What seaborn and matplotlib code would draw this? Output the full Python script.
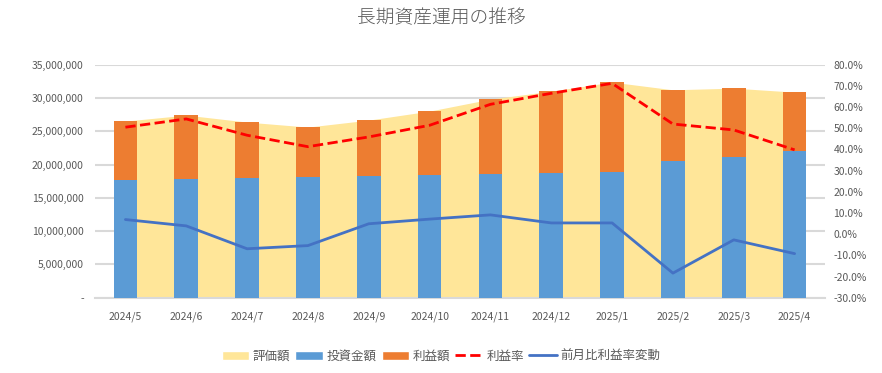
import matplotlib
matplotlib.use("Agg")
import matplotlib.pyplot as plt
from matplotlib.patches import Patch
from matplotlib.lines import Line2D
from matplotlib.ticker import FuncFormatter, MultipleLocator
import seaborn as sns
import numpy as np

# data
months = ["2024/5", "2024/6", "2024/7", "2024/8", "2024/9", "2024/10",
          "2024/11", "2024/12", "2025/1", "2025/2", "2025/3", "2025/4"]
valuation = [26_530_000, 27_430_000, 26_380_000, 25_630_000, 26_680_000, 28_030_000,
             29_830_000, 31_030_000, 32_390_000, 31_230_000, 31_480_000, 30_880_000]
invested = [17_720_000, 17_820_000, 18_020_000, 18_120_000, 18_320_000, 18_420_000,
            18_570_000, 18_720_000, 18_920_000, 20_520_000, 21_120_000, 22_030_000]
profit = [8_810_000, 9_610_000, 8_360_000, 7_510_000, 8_360_000, 9_610_000,
          11_260_000, 12_310_000, 13_470_000, 10_710_000, 10_360_000, 8_850_000]
profit_rate = [0.505, 0.544, 0.467, 0.413, 0.459, 0.514,
               0.613, 0.665, 0.712, 0.520, 0.492, 0.398]
mom_change = [0.069, 0.039, -0.069, -0.054, 0.049, 0.071,
              0.091, 0.053, 0.053, -0.184, -0.027, -0.092]

YELLOW = "#FFE699"
BLUE = "#5B9BD5"
ORANGE = "#ED7D31"
RED = "#FF0000"
LINE_BLUE = "#4472C4"
GRID = "#D9D9D9"
TEXT = "#595959"

sns.set_theme(style="white")
plt.rcParams["font.family"] = ["Noto Sans CJK JP", "DejaVu Sans"]

fig = plt.figure(figsize=(8.82, 3.73), dpi=100)
ax = fig.add_axes([0.1077, 0.2019, 0.8277, 0.6246])

x = np.arange(len(months))
stacked_top = [i + p for i, p in zip(invested, profit)]

# area behind the bars
ax.fill_between(x, valuation, color=YELLOW, linewidth=0, zorder=1)

# stacked bars: full height in orange, investment in blue on top of it
sns.barplot(x=months, y=stacked_top, color=ORANGE, width=0.39, saturation=1,
            linewidth=0, ax=ax, zorder=2)
sns.barplot(x=months, y=invested, color=BLUE, width=0.39, saturation=1,
            linewidth=0, ax=ax, zorder=3)

ax.set_xlim(-0.5, len(months) - 0.5)
ax.set_ylim(0, 35_000_000)
ax.yaxis.set_major_locator(MultipleLocator(5_000_000))
ax.yaxis.set_major_formatter(FuncFormatter(lambda v, p: "-" if v == 0 else f"{int(v):,}"))
ax.grid(axis="y", color=GRID, linewidth=1.5)
ax.set_axisbelow(True)
for side in ["top", "right", "left"]:
    ax.spines[side].set_visible(False)
ax.spines["bottom"].set_color(GRID)
ax.spines["bottom"].set_linewidth(1.5)
ax.tick_params(axis="both", length=0, labelsize=7.5, colors=TEXT)
ax.tick_params(axis="x", pad=10)
ax.tick_params(axis="y", pad=8)
ax.set_xlabel("")
ax.set_ylabel("")

# rate lines on the right axis
ax2 = ax.twinx()
sns.lineplot(x=x, y=profit_rate, color=RED, linestyle="--", linewidth=2, ax=ax2)
sns.lineplot(x=x, y=mom_change, color=LINE_BLUE, linewidth=2, ax=ax2)
ax2.set_ylim(-0.3, 0.8)
ax2.yaxis.set_major_locator(MultipleLocator(0.1))
ax2.yaxis.set_major_formatter(FuncFormatter(lambda v, p: f"{v * 100:.1f}%"))
ax2.tick_params(axis="y", length=0, labelsize=7.5, colors=TEXT, pad=6)
for side in ["top", "right", "left", "bottom"]:
    ax2.spines[side].set_visible(False)
ax2.grid(False)
ax2.set_xlim(-0.5, len(months) - 0.5)

fig.suptitle("長期資産運用の推移", x=0.5, y=0.975, fontsize=13.5, color=TEXT,
             fontweight="light")

handles = [
    Patch(facecolor=YELLOW, label="評価額"),
    Patch(facecolor=BLUE, label="投資金額"),
    Patch(facecolor=ORANGE, label="利益額"),
    Line2D([], [], color=RED, linestyle="--", linewidth=2, label="利益率"),
    Line2D([], [], color=LINE_BLUE, linewidth=2, label="前月比利益率変動"),
]
leg = fig.legend(handles=handles, loc="center", bbox_to_anchor=(0.5, 0.045), ncol=5,
                 frameon=False, fontsize=9, handlelength=2.2, handletextpad=0.3,
                 columnspacing=0.4)
for t in leg.get_texts():
    t.set_color(TEXT)

fig.savefig("out.png", dpi=100)
plt.close(fig)
